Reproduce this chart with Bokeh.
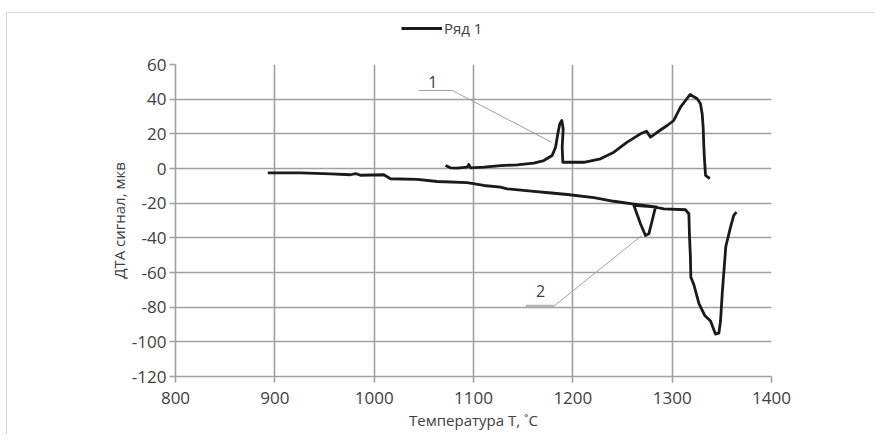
from bokeh.plotting import figure
from bokeh.models import ColumnDataSource, Legend, LegendItem, FixedTicker
from bokeh.layouts import column
from bokeh.core.properties import value
from bokeh.embed import file_html
from bokeh.resources import INLINE

# ---- data ----
# curve "1" (upper DTA trace)
t1 = [1071.8, 1076.8, 1083.6, 1093.6, 1095.3, 1097.0, 1110.4, 1127.2, 1144.0, 1160.7,
      1170.8, 1179.2, 1182.6, 1184.9, 1186.9, 1188.9, 1190.3, 1189.3, 1189.9, 1194.3,
      1211.0, 1227.9, 1241.3, 1254.7, 1268.1, 1274.2, 1278.2, 1284.9, 1295.0, 1301.6,
      1308.4, 1318.0, 1325.2, 1328.5, 1330.2, 1331.2, 1331.9, 1332.6, 1333.6, 1337.9]
s1 = [1.7, 0.4, 0.2, 0.8, 2.3, 0.4, 0.8, 1.7, 2.1, 3.1,
      4.6, 7.5, 12.3, 20.0, 25.8, 27.7, 22.9, 12.3, 3.6, 3.6,
      3.6, 5.6, 9.4, 15.2, 20.0, 21.5, 18.1, 20.9, 24.8, 27.7,
      35.4, 42.7, 40.2, 37.3, 31.6, 23.8, 12.3, 4.6, -4.0, -5.9]

# curve "2" (lower DTA trace)
t2 = [892.9, 925.8, 956.0, 976.2, 981.2, 986.2, 1009.7, 1016.4, 1043.3, 1063.5,
      1093.6, 1110.4, 1127.2, 1133.9, 1160.7, 1175.8, 1194.3, 1221.2, 1241.3, 1259.7,
      1284.9, 1261.4, 1268.1, 1273.1, 1276.5, 1279.9, 1283.2, 1291.6, 1313.4, 1316.8,
      1317.5, 1318.3, 1318.8, 1321.8, 1327.0, 1333.0, 1338.6, 1343.6, 1347.0, 1348.7,
      1350.4, 1352.0, 1354.0, 1358.7, 1362.0, 1364.7]
s2 = [-2.5, -2.5, -3.1, -3.6, -2.9, -3.9, -3.6, -5.9, -6.3, -7.5,
      -8.2, -9.8, -10.8, -11.7, -13.2, -14.0, -15.0, -16.8, -18.9, -20.4,
      -22.3, -21.2, -31.9, -38.7, -37.7, -30.0, -22.3, -23.3, -23.8, -26.1,
      -40.0, -50.0, -62.7, -67.0, -78.0, -85.0, -88.0, -95.5, -95.0, -88.0,
      -72.0, -60.0, -45.0, -34.0, -27.0, -25.2]

# callout labels and their leader lines
callout_text = ["1", "2"]
callout_x = [1059.0, 1167.4]
callout_y = [49.8, -70.4]
leader1_x = [1044.6, 1078.8, 1178.3]
leader1_y = [45.0, 45.0, 15.2]
leader2_h_x = [1152.7, 1181.2]
leader2_h_y = [-79.3, -79.3]
leader2_d_x = [1181.2, 1269.3]
leader2_d_y = [-79.3, -38.7]

x_ticks = [800, 900, 1000, 1100, 1200, 1300, 1400]
y_ticks = [60, 40, 20, 0, -20, -40, -60, -80, -100, -120]
y_tick_labels = ["60", "40", "20", "0", "-20", "-40", "-60", "-80", "-100", "-120"]

series_name = "Ряд 1"
x_title = "Температура T, ˚C"
y_title = "ДТА сигнал, мкв"

FONT = "Open Sans"
TXT = "#404040"
GRID = "#a0a0a0"
LINE = "#1a1a1a"

src1 = ColumnDataSource(dict(x=t1, y=s1))
src2 = ColumnDataSource(dict(x=t2, y=s2))

# ---- legend strip above the chart ----
lg = figure(width=868, height=39, x_range=(0, 1), y_range=(0, 1),
            x_axis_type=None, y_axis_type=None,
            min_border_left=0, min_border_right=0, min_border_top=0, min_border_bottom=0,
            output_backend="svg", toolbar_location=None,
            background_fill_color="white", border_fill_color="white")
lg.outline_line_color = None
lg.xgrid.visible = False
lg.ygrid.visible = False
# same series; its data lies outside this strip's ranges, only the legend swatch shows
lr = lg.line("x", "y", source=src1, line_color=LINE, line_width=2.8)
legend = Legend(items=[LegendItem(label=series_name, renderers=[lr])],
                location=(226, 14), orientation="horizontal",
                glyph_width=41, glyph_height=20, label_standoff=2,
                padding=0, margin=0, spacing=0,
                border_line_color=None, background_fill_alpha=0,
                label_text_font=FONT, label_text_font_size="15px",
                label_text_color=TXT)
lg.add_layout(legend, "center")

# ---- main chart ----
p = figure(width=868, height=382,
           frame_width=596, frame_height=312,
           min_border_left=168, min_border_right=104,
           min_border_top=12, min_border_bottom=58,
           x_range=(800, 1400), y_range=(-120, 60),
           output_backend="svg", toolbar_location=None,
           background_fill_color="white", border_fill_color="white")
p.outline_line_color = None

for ax in (p.xaxis[0], p.yaxis[0]):
    ax.axis_line_color = GRID
    ax.axis_line_width = 1.6
    ax.major_tick_line_color = GRID
    ax.major_tick_line_width = 1.6
    ax.major_tick_out = 6
    ax.major_tick_in = 0
    ax.minor_tick_line_color = None
    ax.major_label_text_font = FONT
    ax.major_label_text_font_size = "17px"
    ax.major_label_text_color = TXT
    ax.axis_label_text_font = FONT
    ax.axis_label_text_font_size = "15px"
    ax.axis_label_text_font_style = "normal"
    ax.axis_label_text_color = TXT

p.xaxis.ticker = FixedTicker(ticks=x_ticks)
p.yaxis.ticker = FixedTicker(ticks=y_ticks)
p.yaxis.major_label_overrides = {t: s for t, s in zip(y_ticks, y_tick_labels)}
p.xaxis.axis_label = x_title
p.yaxis.axis_label = y_title
p.xaxis.major_label_standoff = 9
p.yaxis.major_label_standoff = 3
p.xaxis.axis_label_standoff = 3
p.yaxis.axis_label_standoff = 0

p.xgrid.ticker = FixedTicker(ticks=x_ticks)
p.ygrid.ticker = FixedTicker(ticks=y_ticks)
for g in (p.xgrid[0], p.ygrid[0]):
    g.grid_line_color = GRID
    g.grid_line_width = 1.6

# leader lines
p.line(leader1_x, leader1_y, line_color="#a0a0a0", line_width=1)
p.line(leader2_h_x, leader2_h_y, line_color="#b5b5b5", line_width=2.5)
p.line(leader2_d_x, leader2_d_y, line_color="#a0a0a0", line_width=1)

p.line("x", "y", source=src1, line_color=LINE, line_width=2.8, line_join="round")
p.line("x", "y", source=src2, line_color=LINE, line_width=2.8, line_join="round")

p.text(x=callout_x, y=callout_y, text=callout_text,
       text_font=value(FONT), text_font_size="16px", text_color=TXT,
       text_align="center", text_baseline="middle")

layout = column(lg, p, spacing=0)
layout.styles = {"margin-top": "12px", "margin-left": "6px",
                 "border-top": "1px solid #d9d9d9", "border-left": "1px solid #d9d9d9"}

open("out.html", "w").write(file_html(layout, INLINE))
